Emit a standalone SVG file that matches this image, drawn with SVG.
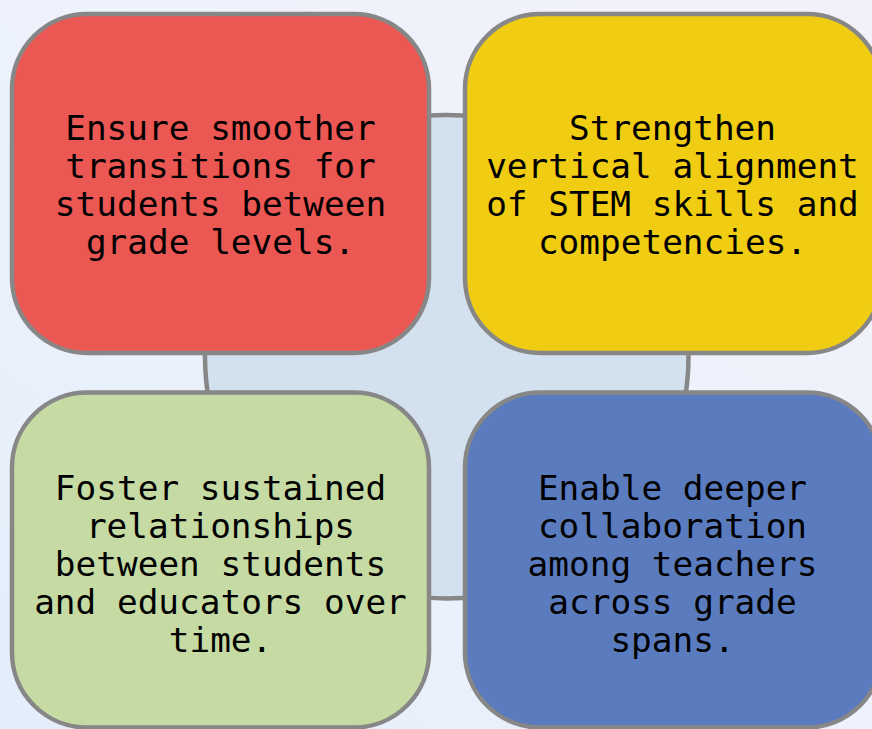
<svg xmlns="http://www.w3.org/2000/svg" width="872" height="729" viewBox="0 0 872 729">
<defs>
<linearGradient id="bg" x1="0" y1="1" x2="1" y2="0">
<stop offset="0" stop-color="#e3eefa"/>
<stop offset="0.5" stop-color="#edf2fc"/>
<stop offset="1" stop-color="#f2f1f9"/>
</linearGradient>
<style>
.box{stroke:#878787;stroke-width:4.5}
.hub{fill:#d3e1ee;stroke:#878787;stroke-width:4.5}
text{font-family:"DejaVu Sans Mono","Liberation Mono",monospace;font-size:34.4px;fill:#000;text-anchor:middle}
</style>
</defs>
<rect x="0" y="0" width="872" height="729" fill="url(#bg)"/>
<g id="connectors">
<circle class="hub" cx="446.75" cy="356.75" r="241.75"/>
</g>
<g id="node-red">
<rect class="box" x="12" y="14" width="417" height="339" rx="75" ry="75" fill="#eb5753"/>
<text x="220.5" y="140">Ensure smoother</text>
<text x="220.5" y="178">transitions for</text>
<text x="220.5" y="216">students between</text>
<text x="220.5" y="254">grade levels.</text>
</g>
<g id="node-yellow">
<rect class="box" x="465" y="14" width="417" height="339" rx="75" ry="75" fill="#f0cd13"/>
<text x="672.5" y="140">Strengthen</text>
<text x="672.5" y="178">vertical alignment</text>
<text x="672.5" y="216">of STEM skills and</text>
<text x="672.5" y="254">competencies.</text>
</g>
<g id="node-green">
<rect class="box" x="12" y="392.5" width="417" height="335" rx="75" ry="75" fill="#c5dba3"/>
<text x="220.5" y="500">Foster sustained</text>
<text x="220.5" y="538">relationships</text>
<text x="220.5" y="576">between students</text>
<text x="220.5" y="614">and educators over</text>
<text x="220.5" y="652">time.</text>
</g>
<g id="node-blue">
<rect class="box" x="465" y="392.5" width="417" height="335" rx="75" ry="75" fill="#5a7bbd"/>
<text x="672.5" y="500">Enable deeper</text>
<text x="672.5" y="538">collaboration</text>
<text x="672.5" y="576">among teachers</text>
<text x="672.5" y="614">across grade</text>
<text x="672.5" y="652">spans.</text>
</g>
</svg>
